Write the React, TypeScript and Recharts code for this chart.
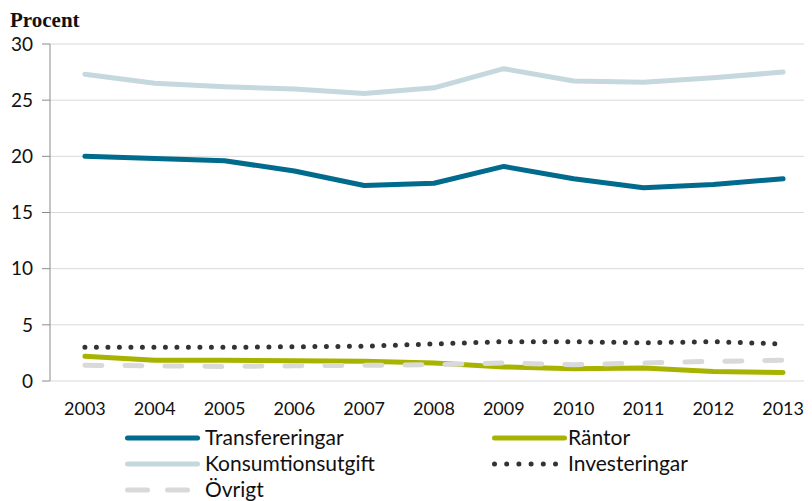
import React from "react";
import { LineChart, Line, XAxis, YAxis, CartesianGrid } from "recharts";

const years = [2003, 2004, 2005, 2006, 2007, 2008, 2009, 2010, 2011, 2012, 2013];
const transfereringar = [20.0, 19.8, 19.6, 18.7, 17.4, 17.6, 19.1, 18.0, 17.2, 17.5, 18.0];
const konsumtionsutgift = [27.3, 26.5, 26.2, 26.0, 25.6, 26.1, 27.8, 26.7, 26.6, 27.0, 27.5];
const rantor = [2.2, 1.85, 1.85, 1.8, 1.75, 1.6, 1.25, 1.1, 1.15, 0.85, 0.75];
const investeringar = [3.0, 3.0, 3.0, 3.05, 3.1, 3.3, 3.5, 3.5, 3.4, 3.5, 3.3];
const ovrigt = [1.4, 1.35, 1.3, 1.35, 1.4, 1.45, 1.6, 1.45, 1.6, 1.75, 1.85];
const yTicks = [0, 5, 10, 15, 20, 25, 30];
const bandEdges = [2002.5, 2003.5, 2004.5, 2005.5, 2006.5, 2007.5, 2008.5, 2009.5, 2010.5, 2011.5, 2012.5, 2013.5];

const data = years.map((y, i) => ({
  year: y,
  transfereringar: transfereringar[i],
  konsumtionsutgift: konsumtionsutgift[i],
  rantor: rantor[i],
  investeringar: investeringar[i],
  ovrigt: ovrigt[i],
}));

const FONT = "Lato, 'Open Sans', sans-serif";
const TEXT = "#111111";

type S = { key: string; name: string; color: string; dash?: string; legendDash?: string };
const series: S[] = [
  { key: "konsumtionsutgift", name: "Konsumtionsutgift", color: "#c5d8de" },
  { key: "transfereringar", name: "Transfereringar", color: "#006b8c" },
  { key: "rantor", name: "Räntor", color: "#a8b300" },
  { key: "ovrigt", name: "Övrigt", color: "#d9d9d9", dash: "17 23", legendDash: "20 20" },
  { key: "investeringar", name: "Investeringar", color: "#333333", dash: "0 11.5", legendDash: "0 12.2" },
];

const legendRows: [string, string | null][] = [
  ["transfereringar", "rantor"],
  ["konsumtionsutgift", "investeringar"],
  ["ovrigt", null],
];

export default function App() {
  const byKey = (k: string) => series.find((s) => s.key === k)!;
  const colX = [125, 492];
  const rowY = [438, 464, 490];
  return (
    <div style={{ position: "relative", width: 812, height: 501, overflow: "hidden", margin: "-8px 0 0 -8px" }}>
      <LineChart width={818} height={501} data={data} margin={{ top: 44, right: 0, left: 0, bottom: 80 }}>
        <CartesianGrid vertical={false} stroke="#d9d9d9" />
        <XAxis
          xAxisId="edges"
          dataKey="year"
          type="number"
          domain={[2002.5, 2013.5]}
          ticks={bandEdges}
          tick={false}
          tickSize={8}
          height={0}
          axisLine={{ stroke: "#8c8c8c" }}
          tickLine={{ stroke: "#8c8c8c" }}
        />
        <XAxis
          xAxisId="labels"
          dataKey="year"
          type="number"
          domain={[2002.5, 2013.5]}
          ticks={years}
          tickLine={false}
          axisLine={false}
          tickSize={8}
          tickMargin={13}
          height={40}
          tick={{ fill: TEXT, fontSize: 18, fontFamily: FONT }}
        />
        <YAxis
          domain={[0, 30]}
          ticks={yTicks}
          width={50}
          tickSize={8}
          tickMargin={9}
          axisLine={{ stroke: "#8c8c8c" }}
          tickLine={{ stroke: "#8c8c8c" }}
          tick={{ fill: TEXT, fontSize: 19, fontFamily: FONT }}
        />
        {series.map((s) => (
          <Line
            key={s.key}
            xAxisId="labels"
            dataKey={s.key}
            name={s.name}
            stroke={s.color}
            strokeWidth={5}
            strokeLinecap="round"
            strokeLinejoin="round"
            strokeDasharray={s.dash}
            dot={false}
            activeDot={false}
            type="linear"
            isAnimationActive={false}
          />
        ))}
      </LineChart>
      <svg width={812} height={501} style={{ position: "absolute", left: 0, top: 0, pointerEvents: "none" }}>
        <text x={10} y={27} fontFamily="'Liberation Serif', serif" fontWeight="bold" fontSize={21} fill={TEXT}>
          Procent
        </text>
        {legendRows.map((row, ri) =>
          row.map((k, ci) => {
            if (!k) return null;
            const s = byKey(k);
            const x0 = colX[ci];
            const y = rowY[ri];
            const isDots = s.key === "investeringar";
            const isDash = s.key === "ovrigt";
            const x1 = x0 + 2.5;
            const x2 = isDots ? x0 + 2.5 + 61 : isDash ? x0 + 62.5 : x0 + 72.5;
            return (
              <g key={k}>
                <line
                  x1={x1}
                  x2={x2}
                  y1={y}
                  y2={y}
                  stroke={s.color}
                  strokeWidth={5}
                  strokeLinecap="round"
                  strokeDasharray={s.legendDash}
                />
                <text x={x0 + (ci === 0 ? 80 : 76)} y={y + 7} fontFamily={FONT} fontSize={21} fill={TEXT}>
                  {s.name}
                </text>
              </g>
            );
          })
        )}
      </svg>
    </div>
  );
}
